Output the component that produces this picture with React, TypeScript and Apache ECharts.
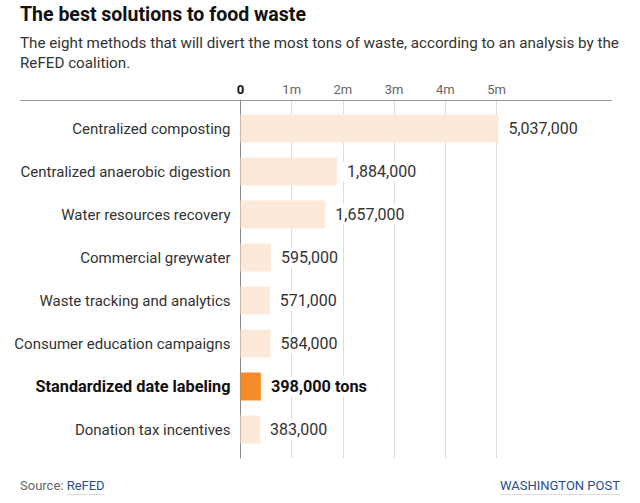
import React, { useEffect, useRef } from "react";
import * as echarts from "echarts";

const categories = [
  "Centralized composting",
  "Centralized anaerobic digestion",
  "Water resources recovery",
  "Commercial greywater",
  "Waste tracking and analytics",
  "Consumer education campaigns",
  "Standardized date labeling",
  "Donation tax incentives",
];
const values = [5037000, 1884000, 1657000, 595000, 571000, 584000, 398000, 383000];
const highlight = "Standardized date labeling";
const tickMin = 0;
const tickMax = 5000000;
const tickInterval = 1000000;

const FONT = "Roboto, 'Liberation Sans', Arial, sans-serif";

const fmt = (v: number) => v.toLocaleString("en-US");

export default function App() {
  const ref = useRef<HTMLDivElement>(null);
  useEffect(() => {
    if (!ref.current) return;
    const chart = echarts.init(ref.current, undefined, { renderer: "svg" });
    const option: any = {
      animation: false,
      backgroundColor: "#fff",
      textStyle: { fontFamily: FONT },
      title: {
        left: 20,
        top: 3,
        padding: 0,
        itemGap: 7,
        text: "The best solutions to food waste",
        textStyle: { fontFamily: FONT, fontSize: 19.5, fontWeight: "bold", color: "#111", lineHeight: 23 },
        subtext:
          "The eight methods that will divert the most tons of waste, according to an analysis by the\nReFED coalition.",
        subtextStyle: { fontFamily: FONT, fontSize: 15.2, color: "#333", lineHeight: 20 },
      },
      grid: [
        { left: 240.5, width: 256, top: 100, height: 358, containLabel: false },
        { left: 240.5, width: 384, top: 107, height: 344, containLabel: false },
      ],
      xAxis: [
        {
          gridIndex: 0,
          type: "value",
          position: "top",
          min: tickMin,
          max: tickMax,
          interval: tickInterval,
          axisLine: { show: false },
          axisTick: { show: false },
          splitLine: { show: true, lineStyle: { color: "#dcdcdc", width: 1 } },
          axisLabel: {
            margin: 4,
            formatter: (v: number) => (v === 0 ? "{z|0}" : "{m|" + v / 1e6 + "m}"),
            rich: {
              z: { fontFamily: FONT, fontSize: 13, fontWeight: "bold", color: "#111" },
              m: { fontFamily: FONT, fontSize: 13, color: "#666" },
            },
          },
        },
        {
          gridIndex: 1,
          type: "value",
          min: 0,
          max: 7500000,
          show: false,
        },
      ],
      yAxis: [
        {
          gridIndex: 0,
          type: "value",
          min: 0,
          max: 1,
          axisLine: { show: true, lineStyle: { color: "#888", width: 1 } },
          axisTick: { show: false },
          axisLabel: { show: false },
          splitLine: { show: false },
        },
        {
          gridIndex: 1,
          type: "category",
          inverse: true,
          data: categories,
          axisLine: { show: false },
          axisTick: { show: false },
          splitLine: { show: false },
          axisLabel: {
            margin: 10,
            formatter: (v: string) => (v === highlight ? "{b|" + v + "}" : "{n|" + v + "}"),
            rich: {
              n: { fontFamily: FONT, fontSize: 15, color: "#333" },
              b: { fontFamily: FONT, fontSize: 16.3, color: "#111", fontWeight: "bold" },
            },
          },
        },
      ],
      series: [
        {
          type: "bar",
          xAxisIndex: 1,
          yAxisIndex: 1,
          barWidth: 28,
          data: values.map((v, i) => ({
            value: v,
            itemStyle: { color: categories[i] === highlight ? "#f68b2c" : "#fde9da" },
          })),
          label: {
            show: true,
            position: "right",
            distance: 6,
            backgroundColor: "#fff",
            padding: [2, 4],
            formatter: (p: any) =>
              categories[p.dataIndex] === highlight
                ? "{b|" + fmt(p.value) + " tons}"
                : "{n|" + fmt(p.value) + "}",
            rich: {
              n: { fontFamily: FONT, fontSize: 16, color: "#333" },
              b: { fontFamily: FONT, fontSize: 16.3, color: "#111", fontWeight: "bold" },
            },
          },
        },
      ],
      graphic: [
        {
          type: "line",
          shape: { x1: 20, y1: 100.5, x2: 612, y2: 100.5 },
          style: { stroke: "#999", lineWidth: 1 },
          z: 10,
        },
        {
          type: "text",
          x: 20,
          y: 485,
          style: {
            text: "{s|Source: }{l|ReFED}",
            verticalAlign: "middle",
            rich: {
              s: { fontFamily: FONT, fontSize: 13, fill: "#666", color: "#666" },
              l: { fontFamily: FONT, fontSize: 13, fill: "#2b4d8c", color: "#2b4d8c" },
            },
          },
        },
        {
          type: "line",
          shape: { x1: 67, y1: 494.5, x2: 105, y2: 494.5 },
          style: { stroke: "#ddd", lineWidth: 1 },
        },
        {
          type: "text",
          x: 620,
          y: 485,
          style: {
            text: "WASHINGTON POST",
            align: "right",
            verticalAlign: "middle",
            fill: "#2b4d8c",
            fontFamily: FONT,
            fontSize: 13,
          },
        },
        {
          type: "line",
          shape: { x1: 500, y1: 494.5, x2: 620, y2: 494.5 },
          style: { stroke: "#ddd", lineWidth: 1 },
        },
      ],
    };
    chart.setOption(option);
    return () => chart.dispose();
  }, []);
  return (
    <div
      ref={ref}
      style={{ position: "fixed", left: 0, top: 0, width: 640, height: 503, background: "#fff" }}
    />
  );
}
